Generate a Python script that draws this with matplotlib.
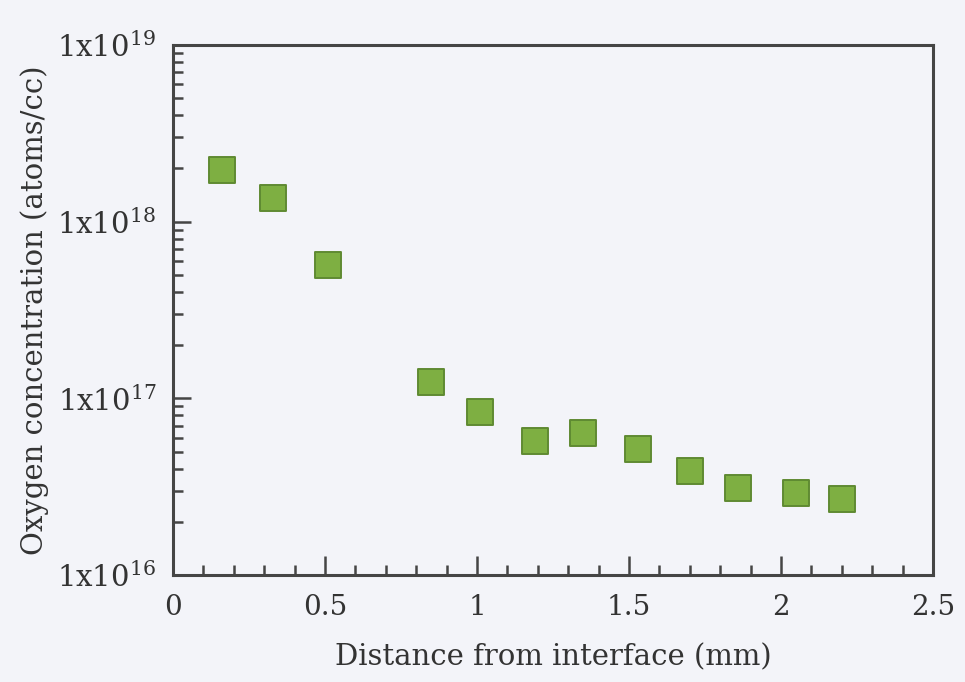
import matplotlib
matplotlib.use("Agg")
import matplotlib.pyplot as plt
from matplotlib.ticker import FixedLocator, LogLocator, NullFormatter

# data
distance_mm = [0.16, 0.33, 0.51, 0.85, 1.01, 1.19, 1.35, 1.53, 1.70, 1.86, 2.05, 2.20]
oxygen_conc = [1.95e18, 1.36e18, 5.7e17, 1.24e17, 8.4e16, 5.7e16, 6.4e16, 5.2e16,
               3.9e16, 3.1e16, 2.9e16, 2.7e16]

x_ticks = [0, 0.5, 1, 1.5, 2, 2.5]
x_tick_labels = ["0", "0.5", "1", "1.5", "2", "2.5"]
y_ticks = [1e16, 1e17, 1e18, 1e19]
y_tick_labels = [r"1x10$^{16}$", r"1x10$^{17}$", r"1x10$^{18}$", r"1x10$^{19}$"]

plt.rcParams["font.family"] = ["DejaVu Serif"]
plt.rcParams["mathtext.fontset"] = "dejavuserif"

bg = "#f3f4f9"
ink = "#454545"

fig = plt.figure(figsize=(9.65, 6.82), dpi=100, facecolor=bg)
ax = fig.add_axes([173 / 965, 1 - 575 / 682, 760 / 965, 530 / 682], facecolor=bg)

ax.scatter(distance_mm, oxygen_conc, marker="s", s=330, color="#7eaf42",
           edgecolors="#5f8a32", linewidths=1.4, zorder=3)

ax.set_yscale("log")
ax.set_xlim(0, 2.5)
ax.set_ylim(1e16, 1e19)

ax.set_xticks(x_ticks)
ax.set_xticklabels(x_tick_labels)
ax.xaxis.set_minor_locator(FixedLocator([i / 10 for i in range(26)]))
ax.set_yticks(y_ticks)
ax.set_yticklabels(y_tick_labels)
ax.yaxis.set_minor_locator(LogLocator(base=10, subs=range(2, 10)))
ax.yaxis.set_minor_formatter(NullFormatter())

ax.tick_params(which="both", direction="in", color=ink, width=1.8,
               top=False, right=False, labelcolor="#333333")
ax.tick_params(axis="x", which="major", length=14, pad=14, labelsize=20)
ax.tick_params(axis="x", which="minor", length=7)
ax.tick_params(axis="y", which="major", length=13, pad=12, labelsize=21)
ax.tick_params(axis="y", which="minor", length=7)

for sp in ax.spines.values():
    sp.set_color(ink)
    sp.set_linewidth(2.2)

ax.set_xlabel("Distance from interface (mm)", fontsize=21, color="#333333", labelpad=16)
ax.set_ylabel("Oxygen concentration (atoms/cc)", fontsize=21, color="#333333", labelpad=6)

fig.savefig("out.png", dpi=100, facecolor=bg)
